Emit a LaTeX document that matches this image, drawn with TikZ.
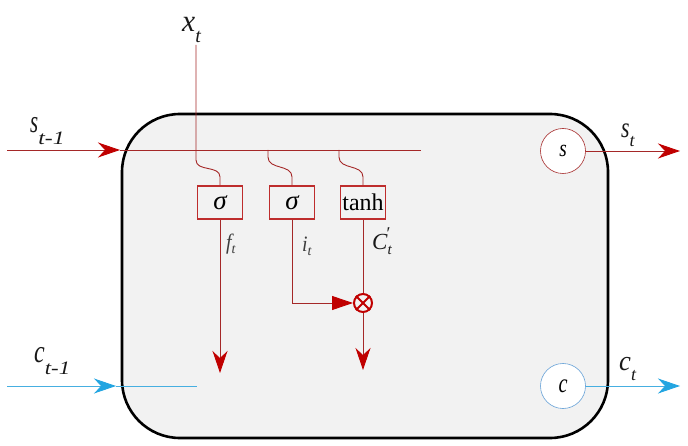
\documentclass[tikz,border=0pt]{standalone}
\usepackage{fontspec}
\setmainfont{Liberation Serif}
\usepackage{graphicx}
\usetikzlibrary{arrows.meta}
\definecolor{cellgray}{RGB}{242,242,242}
\definecolor{lnred}{RGB}{165,40,40}
\definecolor{arrred}{RGB}{192,0,0}
\definecolor{boxred}{RGB}{190,45,45}
\definecolor{lnblue}{RGB}{70,175,225}
\definecolor{arrblue}{RGB}{35,165,225}
\definecolor{circblue}{RGB}{100,160,215}
\definecolor{lblgray}{RGB}{60,60,60}
\definecolor{lbltext}{RGB}{25,25,25}
\newcommand\mylbl[7]{\scalebox{#2}[1]{\fontsize{#1}{#1}\selectfont\itshape #3}\raisebox{-#6pt}{\scalebox{#7}[1]{\fontsize{#4}{#4}\selectfont\itshape #5}}}
\begin{document}
\begin{tikzpicture}[x=1pt,y=-1pt,
  cell/.style={draw=black,line width=2.6pt,fill=cellgray,rounded corners=58pt,minimum width=486pt,minimum height=324pt,inner sep=0pt},
  redln/.style={draw=lnred,line width=0.9pt},
  blueln/.style={draw=lnblue,line width=0.9pt},
  stealthred/.style={-{Stealth[length=22pt,width=15pt,inset=7pt,color=arrred]}},
  stealthblue/.style={-{Stealth[length=22pt,width=15pt,inset=7pt,color=arrblue]}},
  gate/.style={draw=boxred,line width=1.5pt,minimum width=45pt,minimum height=33pt,inner sep=0pt,font=\fontsize{24}{24}\selectfont},
  lbl/.style={inner sep=0pt,anchor=base west,text=lbltext},
  outc/.style={circle,fill=white,minimum size=45pt,inner sep=0pt,line width=0.6pt}
]
\useasboundingbox (0,0) rectangle (688,446);
\node[cell] (cell) at (365,276) {};

% labels
\node[lbl] (xt) at (182,32) {\mylbl{31}{0.95}{x}{20}{t}{11}{1}};
\node[lbl] (stm1) at (30,133) {\mylbl{32}{0.65}{s}{19}{t-1}{12}{1.25}};
\node[lbl] (ctm1) at (34,362) {\mylbl{32}{0.75}{c}{19}{t-1}{13}{1.2}};
\node[lbl] (stl) at (621,138) {\mylbl{29}{0.75}{s}{18}{t}{9}{1}};
\node[lbl] (ctl) at (619,370) {\mylbl{28}{0.95}{c}{18}{t}{10}{1}};
\node[lbl,text=lblgray] (ftl) at (226,250) {\mylbl{22}{0.9}{f}{14}{t}{4}{1}};
\node[lbl,text=lblgray] (itl) at (302,252) {\mylbl{22}{0.9}{i}{14}{t}{4}{1}};
\node[lbl] (Ctl) at (372,250) {{\fontsize{23}{23}\selectfont\itshape C}\raisebox{-5pt}{\fontsize{15}{15}\selectfont\itshape t}\hspace{-5pt}\raisebox{10pt}{\fontsize{18}{18}\selectfont ′}};

% gates
\node[gate] (g1) at (220,202.5) {\fontsize{27}{27}\selectfont\itshape σ};
\node[gate] (g2) at (292,202.5) {\fontsize{27}{27}\selectfont\itshape σ};
\node[gate] (g3) at (363,202.5) {tanh};
\node[circle,draw=arrred,line width=2pt,minimum size=18pt,inner sep=0pt] (mul) at (363,303) {};
\draw[arrred,line width=2pt] (mul.north west) -- (mul.south east) (mul.north east) -- (mul.south west);

% output circles
\node[outc,draw=lnred] (sc) at (563,151) {\scalebox{0.8}[1]{\fontsize{24}{24}\selectfont\itshape s}};
\node[outc,draw=circblue] (cc) at (563,386) {\scalebox{0.75}[1]{\fontsize{27}{27}\selectfont\itshape c}};

% coordinates
\coordinate (sin) at (7,150);
\coordinate (sarr) at (120,150);
\coordinate (send) at (421,150);
\coordinate (xtop) at (196,45);
\coordinate (tap2) at (268,150);
\coordinate (tap3) at (339,150);
\coordinate (fend) at (220,373);
\coordinate (cend) at (363,370);
\coordinate (sout) at (680,151);
\coordinate (cin) at (7,386);
\coordinate (carr) at (116,386);
\coordinate (cbus) at (197,386);
\coordinate (cout) at (680,386);

% state bus
\draw[redln] (sarr) -- (send);
\draw[redln,stealthred] (sin) -- (sarr);
% input x_t
\draw[redln] (xtop) -- (196,160) .. controls (196,172) and (220,165) .. (220,177) -- (g1.north);
\draw[redln] (tap2) -- (268,157) .. controls (268,170) and (292,164) .. (292,177) -- (g2.north);
\draw[redln] (tap3) -- (339,157) .. controls (339,170) and (363,164) .. (363,177) -- (g3.north);
% gate outputs
\draw[redln,stealthred] (g1.south) -- (fend);
\draw[redln,-{Triangle[length=21pt,width=14pt,color=arrred]}] (g2.south) |- (mul.west);
\draw[redln] (g3.south) -- (mul.north);
\draw[redln,stealthred] (mul.south) -- (cend);
% outputs
\draw[redln,stealthred] (sc.east) -- (sout);
\draw[blueln] (carr) -- (cbus);
\draw[blueln,stealthblue] (cin) -- (carr);
\draw[blueln,stealthblue] (cc.east) -- (cout);
\end{tikzpicture}
\end{document}
